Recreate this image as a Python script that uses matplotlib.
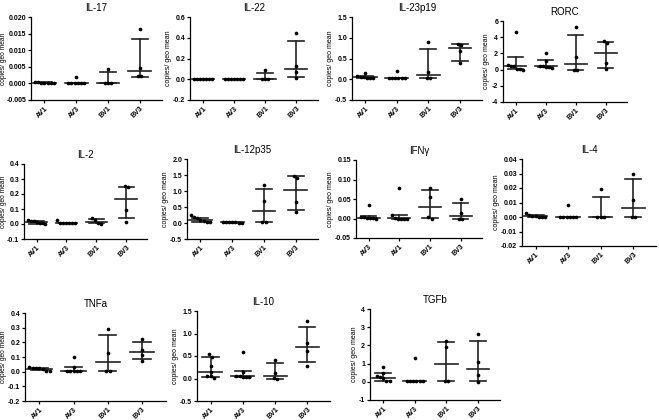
import matplotlib
matplotlib.use("Agg")
import matplotlib.pyplot as plt
import numpy as np

plt.rcParams['font.family'] = ['Liberation Sans', 'DejaVu Sans']

W, H = 659, 420

titles = ["IL-17", "IL-22", "IL-23p19", "RORC",
          "IL-2", "IL-12p35", "IFN\u03b3", "IL-4",
          "TNFa", "IL-10", "TGFb"]

groups = ["AV1", "AV3", "BV1", "BV3"]
groups_ifn = ["AV3", "AV1", "BV1", "BV3"]

# y range and tick step per panel
ylims = [(-0.005, 0.020, 0.005), (-0.2, 0.6, 0.2), (-0.5, 1.5, 0.5), (-4, 6, 2),
         (-0.1, 0.4, 0.1), (-0.5, 2.0, 0.5), (-0.05, 0.15, 0.05), (-0.02, 0.04, 0.01),
         (-0.2, 0.4, 0.1), (-0.5, 1.5, 0.5), (-1, 4, 1)]

# individual points per group
il17 = [[0.0003, 0.0002, 0.0001, 0.0001, 0.0001, 0.0002, 0.0003],
        [0.002, 0, 0, 0, 0, 0, 0],
        [0.0043, 0, 0, 0],
        [0.0165, 0.0047, 0.0023, 0.0021]]
il22 = [[0.002, 0.001, 0.0, 0.0, 0.0, 0.001, 0.002],
        [0.0, 0.0, 0.0, 0.0, 0.0, 0.0, 0.0],
        [0.085, 0.005, 0.0, 0.0],
        [0.45, 0.13, 0.07, 0.015]]
il23 = [[0.16, 0.07, 0.06, 0.05, 0.04, 0.03, 0.02],
        [0.2, 0.03, 0.03, 0.03, 0.03, 0.03, 0.03],
        [0.9, 0.18, 0.04, 0.03],
        [0.85, 0.82, 0.67, 0.38]]
rorc = [[4.6, 0.6, 0.5, 0.45, 0.1, 0.05, 0.0],
        [2.1, 1.1, 0.4, 0.4, 0.35, 0.3, 0.2],
        [5.2, 1.5, 0.0, 0.0],
        [3.5, 3.3, 0.8, 0.05]]
il2 = [[0.025, 0.02, 0.015, 0.01, 0.005, 0.0, 0.02],
       [0.028, 0.01, 0.008, 0.006, 0.005, 0.005, 0.008],
       [0.04, 0.025, 0.005, 0.003],
       [0.255, 0.25, 0.095, 0.015]]
il12 = [[0.25, 0.18, 0.15, 0.08, 0.05, 0.03, 0.02],
        [0.04, 0.03, 0.03, 0.02, 0.02, 0.01, 0.01],
        [1.2, 0.7, 0.02, 0.02],
        [1.48, 1.42, 0.65, 0.35]]
ifng = [[0.035, 0.005, 0.003, 0.002, 0.002, 0.001, 0.0],
        [0.077, 0.009, 0.001, 0.0, 0.0, 0.0, 0.0],
        [0.079, 0.055, 0.003, 0.0],
        [0.05, 0.013, 0.0, 0.0]]
il4 = [[0.0025, 0.0012, 0.0008, 0.0005, 0.0003, 0.0002, 0.0001],
       [0.008, 0, 0, 0, 0, 0, 0],
       [0.019, 0, 0, 0],
       [0.030, 0.012, 0, 0]]
tnfa = [[0.03, 0.028, 0.025, 0.022, 0.02, 0.005, 0.005],
        [0.102, 0.035, 0.005, 0.005, 0.005, 0.005, 0.005],
        [0.29, 0.125, 0.005, 0.003],
        [0.225, 0.15, 0.115, 0.07]]
il10 = [[0.55, 0.48, 0.28, 0.15, 0.05, 0.02, 0.05],
        [0.6, 0.15, 0.05, 0.05, 0.04, 0.03, 0.03],
        [0.42, 0.12, 0.02, 0.0],
        [1.28, 0.78, 0.62, 0.28]]
tgfb = [[0.8, 0.5, 0.3, 0.25, 0.2, 0.05, 0.05],
        [1.3, 0.05, 0.05, 0.05, 0.05, 0.05, 0.05],
        [2.25, 1.9, 0.05, 0.03],
        [2.6, 1.1, 0.4, 0.0]]

points = [il17, il22, il23, rorc, il2, il12, ifng, il4, tnfa, il10, tgfb]

# median and interquartile range
medians = [[0.0001, 0.0, 0.0, 0.0038], [0.0, 0.0, 0.005, 0.10], [0.05, 0.03, 0.11, 0.745],
           [0.5, 0.4, 0.75, 2.05], [0.012, 0.007, 0.013, 0.168], [0.08, 0.02, 0.36, 1.04],
           [0.002, 0.0005, 0.03, 0.007], [0.0004, 0.0, 0.0, 0.006], [0.02, 0.005, 0.065, 0.132],
           [0.15, 0.05, 0.06, 0.70], [0.22, 0.05, 1.0, 0.72]]
q1 = [[0.0001, 0.0, 0.0, 0.002], [0.0, 0.0, 0.0, 0.02], [0.03, 0.03, 0.033, 0.45],
      [0.05, 0.3, 0.0, 0.25], [0.003, 0.004, 0.004, 0.04], [0.04, 0.01, 0.02, 0.42],
      [0.0005, 0.0, 0.001, 0.0], [0.0002, 0.0, 0.0, 0.0], [0.008, 0.003, 0.003, 0.085],
      [0.03, 0.03, 0.0, 0.37], [0.05, 0.05, 0.03, 0.07]]
q3 = [[0.0003, 0.0, 0.0033, 0.0135], [0.0, 0.0, 0.065, 0.37], [0.07, 0.03, 0.72, 0.84],
      [1.6, 1.2, 4.3, 3.45], [0.022, 0.01, 0.035, 0.25], [0.17, 0.03, 1.07, 1.46],
      [0.006, 0.01, 0.073, 0.041], [0.0012, 0.0, 0.014, 0.026], [0.027, 0.032, 0.25, 0.205],
      [0.47, 0.16, 0.34, 1.15], [0.5, 0.05, 2.2, 2.25]]

# axes boxes in pixels: left, right, top, bottom
boxes = [(31, 162, 17, 100), (190, 318, 17, 100), (352, 482, 17, 100), (503, 627, 21, 102),
         (24, 147, 164, 239), (187, 318, 159, 239), (356, 482, 160, 238), (522, 656, 159, 246),
         (25, 166, 313, 401), (197, 330, 311, 401), (370, 500, 309, 400)]

fig = plt.figure(figsize=(W / 100, H / 100), dpi=100)


def swarm_offsets(vals, tol, step=0.1):
    order = np.argsort(vals)[::-1]
    offs = np.zeros(len(vals))
    clusters = []
    for idx in order:
        if clusters and abs(vals[clusters[-1][-1]] - vals[idx]) < tol:
            clusters[-1].append(idx)
        else:
            clusters.append([idx])
    for c in clusters:
        k = len(c)
        for j, idx in enumerate(c):
            offs[idx] = (j - (k - 1) / 2) * step
    return offs


for i, title in enumerate(titles):
    l, r, t, b = boxes[i]
    ax = fig.add_axes([l / W, 1 - b / H, (r - l) / W, (b - t) / H])
    lo, hi, step = ylims[i]
    ax.set_ylim(lo, hi)
    ax.set_xlim(-0.42, 3.7)
    tol = (hi - lo) * 3.2 / (b - t)
    for g in range(4):
        vals = np.array(points[i][g], dtype=float)
        xs = g + swarm_offsets(vals, tol)
        ax.scatter(xs, vals, s=7, color='black', zorder=3, linewidths=0)
        ax.plot([g - 0.36, g + 0.36], [medians[i][g]] * 2, color='#222222', lw=1.2, zorder=2)
        ax.plot([g, g], [q1[i][g], q3[i][g]], color='#222222', lw=1.2, zorder=2)
        for q in (q1[i][g], q3[i][g]):
            ax.plot([g - 0.25, g + 0.25], [q, q], color='#222222', lw=1.2, zorder=2)

    ticks = np.arange(lo, hi + step / 2, step)
    ax.set_yticks(ticks)
    if step < 0.01:
        ax.set_yticklabels([f"{v:.3f}" for v in ticks])
    elif step < 0.1:
        ax.set_yticklabels([f"{v:.2f}" for v in ticks])
    elif step < 1:
        ax.set_yticklabels([f"{v:.1f}" for v in ticks])
    else:
        ax.set_yticklabels([f"{v:.0f}" for v in ticks])
    ax.set_xticks(range(4))
    labels = groups_ifn if i == 6 else groups
    ax.set_xticklabels(labels, rotation=45, ha='right', va='top', rotation_mode='anchor')
    ax.tick_params(axis='both', labelsize=5, width=0.9, length=2.5, pad=1)
    for lab in ax.get_xticklabels() + ax.get_yticklabels():
        lab.set_fontweight('bold')
    ax.spines['top'].set_visible(False)
    ax.spines['right'].set_visible(False)
    ax.spines['left'].set_linewidth(0.9)
    ax.spines['bottom'].set_linewidth(0.9)
    if l < 40:
        # left column: place the axis title by hand so it stays inside the figure
        fig.text(3.8 / W, 1 - (t + b) / 2 / H, "copies/ geo mean", fontsize=4.8,
                 rotation=90, ha='center', va='center')
    else:
        ax.set_ylabel("copies/ geo mean", fontsize=5, labelpad=1)
    ax.set_title(title, fontsize=7, pad=4)
    ax.patch.set_alpha(0)

fig.savefig("out.png", dpi=100)
